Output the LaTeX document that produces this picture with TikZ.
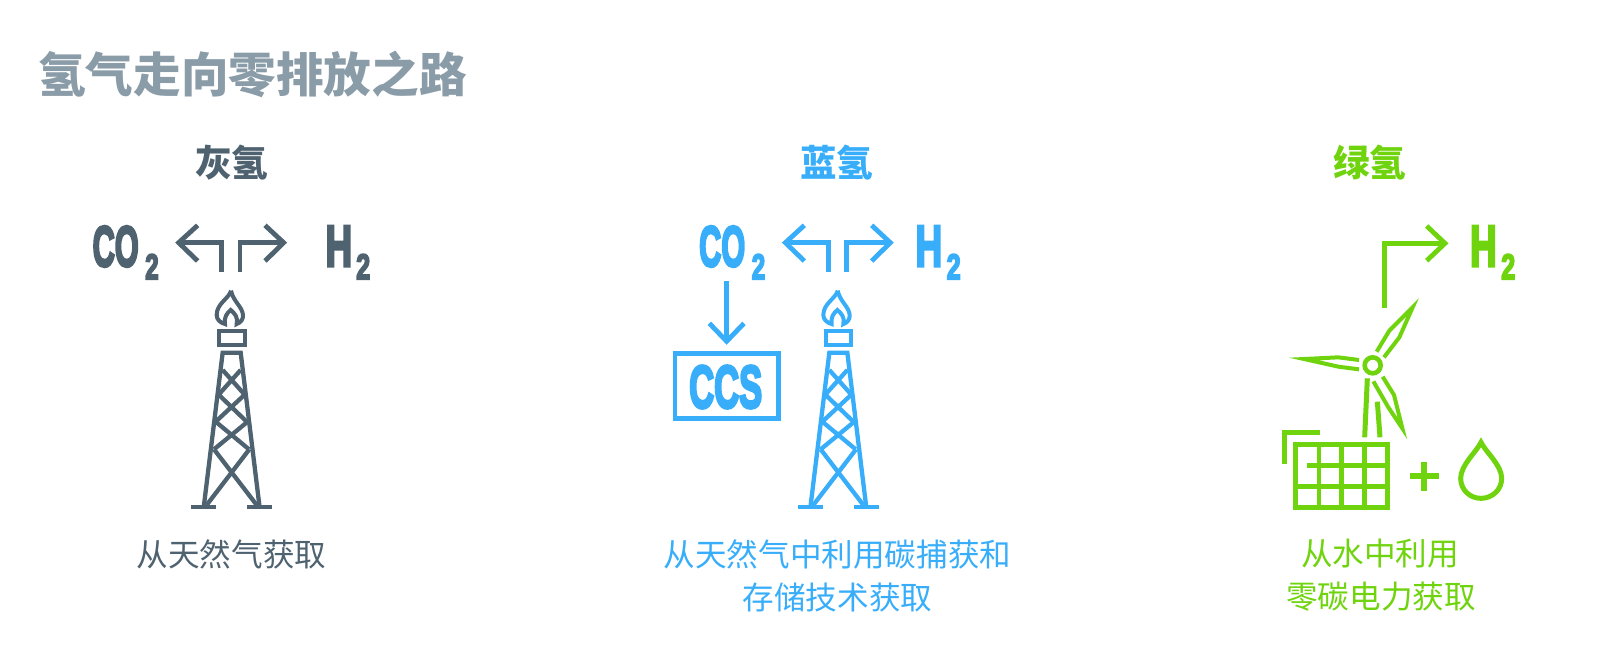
\documentclass[tikz,border=0pt]{standalone}
\usepackage{fontspec}
\usepackage{graphicx}
\setmainfont{Noto Sans CJK SC}
\newfontfamily\latinheavy[FakeBold=5.2]{Liberation Sans Bold}
\definecolor{cgray}{HTML}{4F6270}
\definecolor{ctitle}{HTML}{8A9CA8}
\definecolor{cblue}{HTML}{38AEFA}
\definecolor{cgreen}{HTML}{6FD40D}
\newcommand{\fsz}[1]{\fontsize{#1}{#1}\selectfont}
\newcommand{\fitbox}[3]{\resizebox{#1pt}{#2pt}{\latinheavy #3}}
\tikzset{
  icon/.style={line width=4.8pt,miter limit=10},
  thin icon/.style={line width=4.3pt,miter limit=10},
  zoomed/.style={x=0.33333pt,y=-0.33333pt},
  heading/.style={font=\fsz{36.5}\bfseries,inner sep=0pt},
  caption/.style={font=\fsz{31.6},inner sep=0pt},
  glyph/.style={anchor=north west,inner sep=0pt},
  tower/.pic={
    % flame
    \draw[line width=4pt,line join=miter]
      (483,272) .. controls (478,295) and (440,310) .. (440,345)
      .. controls (440,358) and (450,368) .. (465,372)
      .. controls (462,352) and (470,340) .. (482,330)
      .. controls (494,340) and (505,352) .. (500,372)
      .. controls (512,368) and (520,358) .. (519,345)
      .. controls (517,320) and (490,305) .. (483,272);
    % cap
    \draw[thin icon] (448,393) rectangle (524,434);
    % legs
    \draw[thin icon] (402,915) -- (458,458) -- (512,458) -- (568,915);
    % bracing
    \draw[thin icon]
      (458,510) -- (525,585) (512,510) -- (445,585)
      (447,585) -- (530,665) (523,585) -- (437,665)
      (437,665) -- (537,748) (533,665) -- (432,748)
      (432,748) -- (560,915) (538,748) -- (410,915);
    % feet
    \draw[thin icon] (364,922) -- (438,922) (532,922) -- (606,922);
    % branching arrows
    \draw[icon] (455,216) -- (455,128) -- (325,128);
    \draw[icon] (383,76) -- (326,128) -- (383,183);
    \draw[icon] (510,216) -- (510,128) -- (642,128);
    \draw[icon] (585,76) -- (641,128) -- (585,183);
  }
}
\begin{document}
\begin{tikzpicture}[x=1pt,y=-1pt]
\useasboundingbox (0,0) rectangle (1600,645);
\fill[white] (0,0) rectangle (1600,645);

% title and headings
\node[anchor=west,inner sep=0pt,text=ctitle,font=\fsz{47.6}\bfseries] (title) at (38,74) {氢气走向零排放之路};
\node[heading,text=cgray] (hgray) at (231.5,163) {灰氢};
\node[heading,text=cblue] (hblue) at (836.5,163) {蓝氢};
\node[heading,text=cgreen] (hgreen) at (1369.5,163) {绿氢};

% captions
\node[caption,text=cgray] (capgray) at (231.5,554) {从天然气获取};
\node[caption,text=cblue] (capblue1) at (837.5,554) {从天然气中利用碳捕获和};
\node[caption,text=cblue] (capblue2) at (837.5,597) {存储技术获取};
\node[caption,text=cgreen] (capgreen1) at (1380,554) {从水中利用};
\node[caption,text=cgreen] (capgreen2) at (1381,597) {零碳电力获取};

% grey column
\begin{scope}[shift={(70,200)},zoomed,draw=cgray]
  \pic[draw=cgray] {tower};
\end{scope}
\node[glyph,text=cgray] (grayco) at (92.5,226) {\fitbox{46}{40}{CO}};
\node[glyph,text=cgray] (gray2a) at (145,254) {\fitbox{13.5}{25}{2}};
\node[glyph,text=cgray] (grayh) at (325.5,226) {\fitbox{26.5}{40}{H}};
\node[glyph,text=cgray] (gray2b) at (356,254) {\fitbox{14}{25}{2}};

% blue column
\begin{scope}[shift={(676.67,200)},zoomed,draw=cblue]
  \pic[draw=cblue] {tower};
\end{scope}
\node[glyph,text=cblue] (blueco) at (699,226) {\fitbox{46}{40}{CO}};
\node[glyph,text=cblue] (blue2a) at (751.5,254) {\fitbox{13.5}{25}{2}};
\node[glyph,text=cblue] (blueh) at (915.5,226) {\fitbox{26.5}{40}{H}};
\node[glyph,text=cblue] (blue2b) at (946.5,254) {\fitbox{14}{25}{2}};
\begin{scope}[shift={(650,200)},zoomed,draw=cblue]
  \draw[icon] (230,243) -- (230,424);
  \draw[icon] (178,370) -- (230,424) -- (282,370);
  \draw[icon] (75,460) rectangle (385,655);
\end{scope}
\node[glyph,text=cblue] (ccs) at (689,365.5) {\fitbox{73}{42}{CCS}};

% green column
\begin{scope}[shift={(1260,210)},zoomed,draw=cgreen]
  % arrow
  \draw[icon] (373,295) -- (373,100) -- (555,100);
  \draw[icon] (500,48) -- (555,100) -- (500,152);
  % hub
  \draw[line width=4.6pt] (338,466) circle (24);
  % blades
  \draw[line width=4pt,line join=miter]
    (350,425) -- (388,362) -- (458,292) -- (418,382) -- (372,442);
  \draw[line width=4pt,line join=miter]
    (297,450) -- (235,442) -- (132,447) -- (235,470) -- (297,478);
  \draw[line width=4pt,line join=miter]
    (368,500) -- (402,555) -- (427,655) -- (385,592) -- (340,514);
  % mast
  \draw[line width=5pt] (322,505) -- (314,682);
  \draw[line width=5pt] (352,575) -- (360,682);
  % solar panel
  \draw[icon] (107,704) rectangle (383,893);
  \draw[icon] (177,704) -- (177,893) (245,704) -- (245,893) (313,704) -- (313,893);
  \draw[icon] (140,767) -- (383,767) (107,830) -- (383,830);
  \draw[icon] (73,761) -- (73,667) -- (180,667);
  % plus
  \draw[line width=5.8pt] (450,797) -- (537,797) (493,755) -- (493,842);
  % drop
  \draw[line width=5pt,line join=miter]
    (663,697) .. controls (650,725) and (602,765) .. (602,805)
    .. controls (602,840) and (630,865) .. (663,865)
    .. controls (696,865) and (725,840) .. (725,805)
    .. controls (725,765) and (676,725) .. (663,697) -- cycle;
\end{scope}
\node[glyph,text=cgreen] (greenh) at (1470,226) {\fitbox{26.5}{40}{H}};
\node[glyph,text=cgreen] (green2) at (1501,254) {\fitbox{14}{25}{2}};
\end{tikzpicture}
\end{document}
